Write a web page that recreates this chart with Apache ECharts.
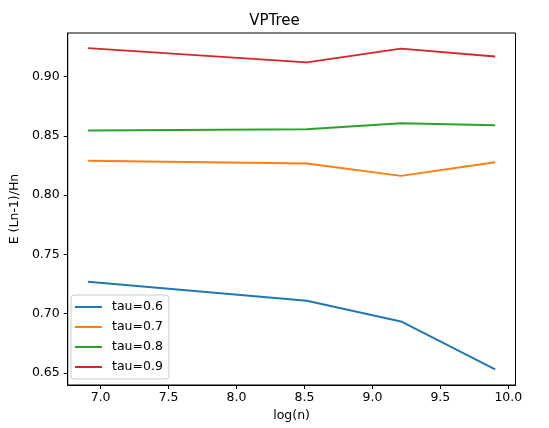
<!DOCTYPE html>
<html>
<head>
<meta charset="utf-8">
<script src="https://cdn.jsdelivr.net/npm/echarts@6/dist/echarts.min.js"></script>
<style>html,body{margin:0;padding:0;background:#fff}#c{width:549px;height:428px}</style>
</head>
<body>
<div id="c"></div>
<script>
const xValues = [6.9078, 8.5172, 9.2103, 9.9035];
const seriesNames = ['tau=0.6', 'tau=0.7', 'tau=0.8', 'tau=0.9'];
const tau06 = [0.727, 0.711, 0.6935, 0.653];
const tau07 = [0.829, 0.8267, 0.8163, 0.8278];
const tau08 = [0.8545, 0.8556, 0.8607, 0.859];
const tau09 = [0.924, 0.912, 0.9236, 0.917];
const xTicks = [7.0, 7.5, 8.0, 8.5, 9.0, 9.5, 10.0];
const yTicks = [0.65, 0.70, 0.75, 0.80, 0.85, 0.90];
const colors = ['#1f77b4', '#ff7f0e', '#2ca02c', '#d62728'];

const allY = [tau06, tau07, tau08, tau09];
const font = 'DejaVu Sans';
const chart = echarts.init(document.getElementById('c'), null, {renderer: 'canvas'});
chart.setOption({
  animation: false,
  backgroundColor: '#fff',
  title: {
    text: 'VPTree', left: 'center', top: 9,
    textStyle: {fontFamily: font, fontSize: 15, fontWeight: 'normal', color: '#000'}
  },
  grid: {left: 64.5, right: 33.5, top: 33, bottom: 43, show: true, borderColor: '#000', borderWidth: 1, backgroundColor: 'transparent'},
  legend: {
    orient: 'vertical', left: 71, top: 295,
    data: seriesNames.map((n, i) => ({name: n, icon: 'rect', itemStyle: {color: colors[i]}})),
    itemWidth: 27, itemHeight: 2, itemGap: 6,
    textStyle: {fontFamily: font, fontSize: 12.5, color: '#000', lineHeight: 14, padding: [0, 0, 0, 5]},
    backgroundColor: 'rgba(255,255,255,0.8)', borderColor: '#ccc', borderWidth: 1, borderRadius: 3,
    padding: [5, 6, 5, 4]
  },
  xAxis: {
    type: 'value', min: 6.758, max: 10.053,
    name: 'log(n)', nameLocation: 'middle', nameGap: 24,
    nameTextStyle: {fontFamily: font, fontSize: 12.5, color: '#000'},
    axisLine: {show: true, onZero: false, lineStyle: {color: '#000', width: 1}},
    axisTick: {show: true, length: 4, customValues: xTicks, lineStyle: {color: '#000'}},
    axisLabel: {customValues: xTicks, margin: 6, fontFamily: font, fontSize: 12.5, color: '#000', formatter: v => v.toFixed(1)},
    splitLine: {show: false}
  },
  yAxis: {
    type: 'value', min: 0.6399, max: 0.9368,
    name: 'E (Ln-1)/Hn', nameLocation: 'middle', nameGap: 44,
    nameTextStyle: {fontFamily: font, fontSize: 12.5, color: '#000'},
    axisLine: {show: true, onZero: false, lineStyle: {color: '#000', width: 1}},
    axisTick: {show: true, length: 4, customValues: yTicks, lineStyle: {color: '#000'}},
    axisLabel: {customValues: yTicks, margin: 8, fontFamily: font, fontSize: 12.5, color: '#000', formatter: v => v.toFixed(2)},
    splitLine: {show: false}
  },
  series: allY.map((ys, i) => ({
    name: seriesNames[i], type: 'line', showSymbol: false, symbol: 'none',
    data: xValues.map((x, j) => [x, ys[j]]),
    lineStyle: {color: colors[i], width: 1.9},
    itemStyle: {color: colors[i]}
  }))
});
</script>
</body>
</html>
